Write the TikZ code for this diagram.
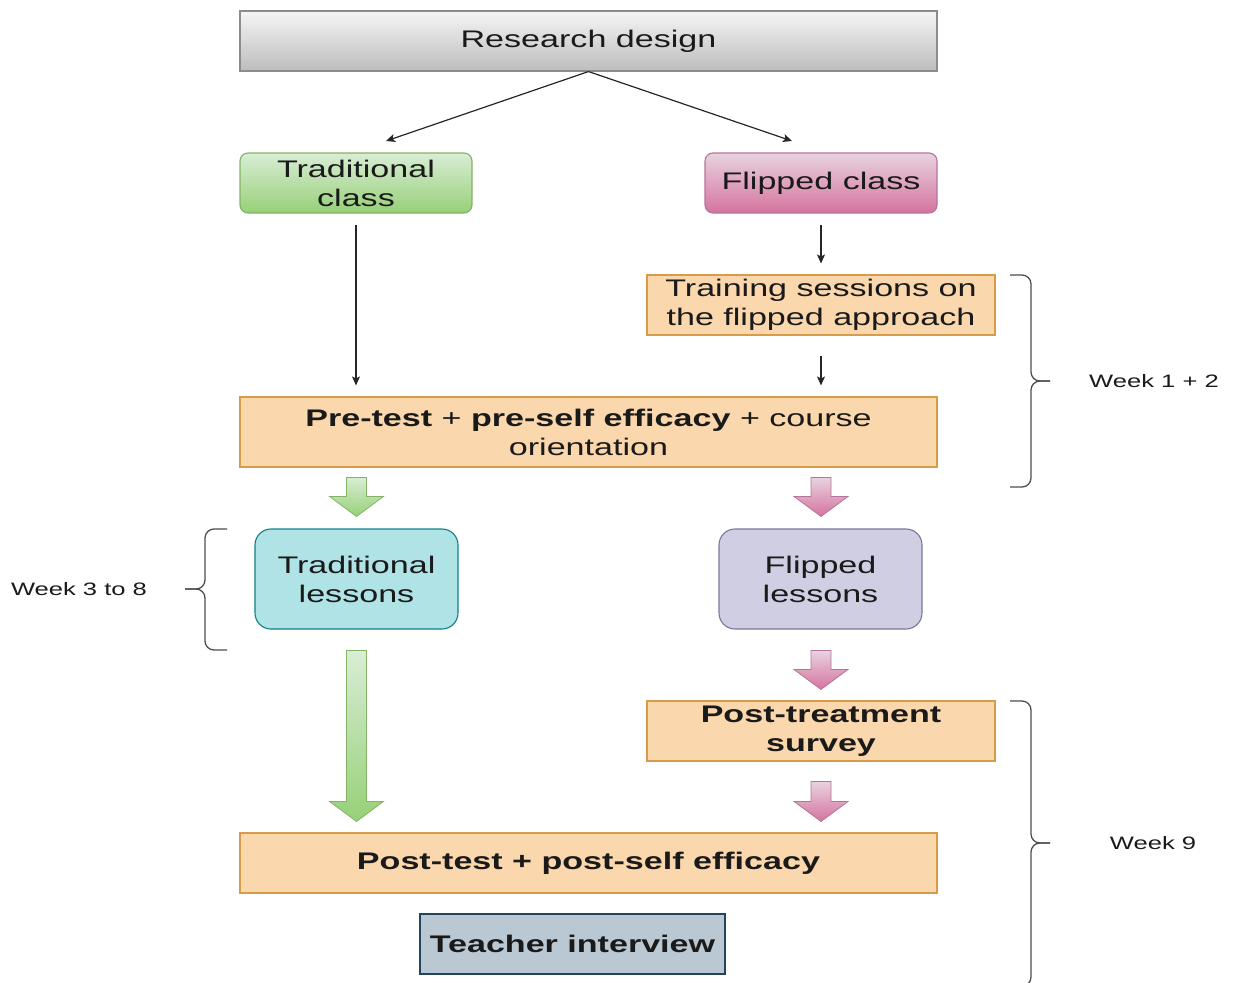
\documentclass[tikz,border=0pt]{standalone}
\usepackage{fontspec}
\setmainfont[FakeStretch=1.42]{Liberation Sans}
\usetikzlibrary{arrows.meta,calc}

\definecolor{txt}{HTML}{1A1A1A}
\definecolor{grayTop}{HTML}{F5F5F5}
\definecolor{grayBot}{HTML}{BDBDBD}
\definecolor{grayLine}{HTML}{8C8C8C}
\definecolor{greenTop}{HTML}{D9EDD5}
\definecolor{greenBot}{HTML}{97D077}
\definecolor{greenLine}{HTML}{82B366}
\definecolor{pinkTop}{HTML}{E8D3E0}
\definecolor{pinkBot}{HTML}{D5739D}
\definecolor{pinkLine}{HTML}{B5739D}
\definecolor{orangeFill}{HTML}{FAD7AC}
\definecolor{orangeLine}{HTML}{D79B4A}
\definecolor{tealFill}{HTML}{B0E3E6}
\definecolor{tealLine}{HTML}{0E8088}
\definecolor{purpleFill}{HTML}{D0CEE2}
\definecolor{purpleLine}{HTML}{7A76A0}
\definecolor{slateFill}{HTML}{BAC8D3}
\definecolor{slateLine}{HTML}{23445D}
\definecolor{braceLine}{HTML}{4D4D4D}

% wide block arrow between two points (top, bottom)
\newcommand{\fatarrow}[3]{%
  \path[#1] let \p1=(#2), \p2=(#3) in
    (\x1-10pt,\y1) -- (\x1+10pt,\y1) -- (\x1+10pt,\y2+20pt) -- (\x1+27pt,\y2+20pt)
    -- (\x1,\y2) -- (\x1-27pt,\y2+20pt) -- (\x1-10pt,\y2+20pt) -- cycle;}

\begin{document}
\begin{tikzpicture}[x=1pt,y=-1pt,
  every node/.style={text=txt, align=center, inner sep=0pt},
  basebox/.style={draw, line width=1.1pt, font=\fontsize{24}{29}\selectfont},
  graybox/.style={basebox, draw=grayLine, top color=grayTop, bottom color=grayBot},
  greenbox/.style={basebox, draw=greenLine, top color=greenTop, bottom color=greenBot, rounded corners=8pt},
  pinkbox/.style={basebox, draw=pinkLine, top color=pinkTop, bottom color=pinkBot, rounded corners=8pt},
  orangebox/.style={basebox, draw=orangeLine, fill=orangeFill},
  tealbox/.style={basebox, draw=tealLine, fill=tealFill, rounded corners=16pt},
  purplebox/.style={basebox, draw=purpleLine, fill=purpleFill, rounded corners=16pt},
  slatebox/.style={basebox, draw=slateLine, fill=slateFill},
  link/.style={draw=black!85, line width=1.2pt, -{Stealth[length=9pt,width=8pt,inset=2pt]}},
  greenarrow/.style={draw=greenLine, line width=0.8pt, top color=greenTop, bottom color=greenBot},
  pinkarrow/.style={draw=pinkLine, line width=0.8pt, top color=pinkTop, bottom color=pinkBot},
  bracket/.style={draw=braceLine, line width=1.3pt, rounded corners=9pt},
  weeklabel/.style={font=\fontsize{18}{22}\selectfont}]

\useasboundingbox (0,0) rectangle (1236,982);

% boxes
\node[graybox, minimum width=697pt, minimum height=60pt] (rd) at (588.5,41) {Research design};
\node[greenbox, minimum width=232pt, minimum height=60pt] (tc) at (356,183) {Traditional\\class};
\node[pinkbox, minimum width=232pt, minimum height=60pt] (fc) at (821,183) {Flipped class};
\node[orangebox, minimum width=348pt, minimum height=60pt] (ts) at (821,305) {Training sessions on\\the flipped approach};
\node[orangebox, minimum width=697pt, minimum height=70pt] (pre) at (588.5,432)
  {\textbf{Pre-test} + \textbf{pre-self efficacy} + course\\orientation};
\node[tealbox, minimum width=203pt, minimum height=100pt] (tl) at (356.5,579) {Traditional\\lessons};
\node[purplebox, minimum width=203pt, minimum height=100pt] (fl) at (820.5,579) {Flipped\\lessons};
\node[orangebox, minimum width=348pt, minimum height=60pt, font=\fontsize{24}{29}\selectfont\bfseries] (pts) at (821,731) {Post-treatment\\survey};
\node[orangebox, minimum width=697pt, minimum height=60pt, font=\fontsize{24}{29}\selectfont\bfseries] (post) at (588.5,863) {Post-test + post-self efficacy};
\node[slatebox, minimum width=305pt, minimum height=60pt, font=\fontsize{24}{29}\selectfont\bfseries] (ti) at (572.5,944) {Teacher interview};

% thin connectors
\coordinate (tcin) at (386,141);
\coordinate (fcin) at (792,141);
\draw[link] (rd.south) -- (tcin);
\draw[link] (rd.south) -- (fcin);
\draw[link, shorten <=11pt, shorten >=11pt] (tc.south) -- (tc.south |- pre.north);
\draw[link, shorten <=11pt, shorten >=11pt] (fc.south) -- (ts.north -| fc.south);
\draw[link, shorten <=20pt, shorten >=11pt] (ts.south -| fc.south) -- (pre.north -| fc.south);

% block arrows
\fatarrow{greenarrow}{$(pre.south -| tl.north)+(0,10)$}{$(tl.north)+(0,-12)$}
\fatarrow{pinkarrow}{$(pre.south -| fc.south)+(0,10)$}{$(fl.north -| fc.south)+(0,-12)$}
\fatarrow{greenarrow}{$(tl.south)+(0,21)$}{$(post.north -| tl.south)+(0,-11)$}
\fatarrow{pinkarrow}{$(fl.south -| fc.south)+(0,21)$}{$(pts.north)+(0,-11)$}
\fatarrow{pinkarrow}{$(pts.south)+(0,20)$}{$(post.north -| pts.south)+(0,-11)$}

% week brackets
\draw[bracket] (1010,275) -| (1031,381) -- (1050,381);
\draw[bracket] (1010,487) -| (1031,381) -- (1050,381);
\draw[bracket] (227,529) -| (205,589) -- (185,589);
\draw[bracket] (227,650) -| (205,589) -- (185,589);
\draw[bracket] (1010,701) -| (1031,843) -- (1050,843);
\draw[bracket] (1010,986) -| (1031,843) -- (1050,843);

\node[weeklabel] (w12) at (1154,381) {Week 1 + 2};
\node[weeklabel] (w38) at (79,589) {Week 3 to 8};
\node[weeklabel] (w9) at (1153,843) {Week 9};

\end{tikzpicture}
\end{document}
